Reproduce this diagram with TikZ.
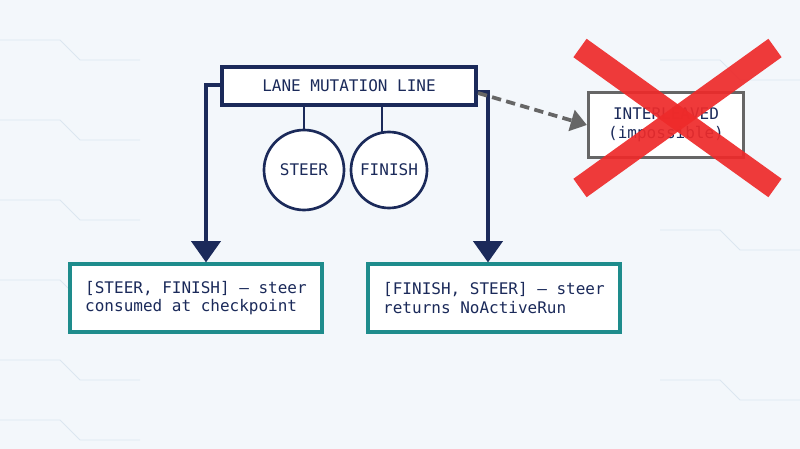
\documentclass[tikz,border=0pt]{standalone}
\usepackage{fontspec}
\setmainfont{DejaVu Sans Mono}
\usetikzlibrary{arrows.meta}
\definecolor{navy}{HTML}{1B2A5A}
\definecolor{teal2}{HTML}{1E8C8C}
\definecolor{bg}{HTML}{F3F7FB}
\definecolor{grid}{HTML}{DCE6F0}
\definecolor{xred}{HTML}{EE2A2A}
\begin{document}
\begin{tikzpicture}[x=0.75pt,y=-0.75pt,
  box/.style={draw=navy,line width=2.4pt,fill=white,text=navy,font=\large},
  circ/.style={draw=navy,line width=2pt,circle,fill=white,text=navy,font=\large,inner sep=0pt},
  res/.style={draw=teal2,line width=2.4pt,fill=white,text=navy,font=\large,align=left,inner sep=0pt},
  flow/.style={draw=navy,line width=2.4pt,-{Triangle[length=16pt,width=22pt]}},
  link/.style={draw=navy,line width=2pt}]
\fill[bg] (0,0) rectangle (800,449);
\useasboundingbox (0,0) rectangle (800,449);
\foreach \y in {40,120,200,280,360,420}{\draw[grid,line width=0.6pt] (0,\y) -- (60,\y) -- (80,\y+20) -- (140,\y+20);}
\foreach \y in {60,230,380}{\draw[grid,line width=0.6pt] (660,\y) -- (720,\y) -- (740,\y+20) -- (800,\y+20);}
\node[box,minimum width=254*0.75pt,minimum height=38*0.75pt] (lane) at (349,86) {LANE MUTATION LINE};
\node[circ,minimum size=80*0.75pt] (steer) at (304,170) {STEER};
\node[circ,minimum size=76*0.75pt] (finish) at (389,170) {FINISH};
\draw[link] (304,105) -- (steer.north);
\draw[link] (382,105) -- (382,132);
\node[res,minimum width=252*0.75pt,minimum height=68*0.75pt] (left) at (196,298) {[STEER, FINISH] — steer\\consumed at checkpoint};
\node[res,minimum width=252*0.75pt,minimum height=68*0.75pt] (right) at (494,298) {[FINISH, STEER] — steer\\returns NoActiveRun};
\coordinate (lc) at (206,85);
\coordinate (rc) at (488,92);
\draw[flow] (lane.west |- lc) -- (lc) -- (left.north -| lc);
\draw[flow] (lane.east |- rc) -- (rc) -- (right.north -| rc);
\node[draw=gray!80!black,line width=2.4pt,fill=white,text=navy,font=\large,align=center,minimum width=155*0.75pt,minimum height=65*0.75pt] (inter) at (666,125) {INTERLEAVED\\(impossible)};
\draw[gray!80!black,line width=2.8pt,dash pattern=on 7pt off 4pt,-{Triangle[length=12pt,width=16pt]}] (478,93) -- (inter.west);
\draw[xred,opacity=0.92,line width=17pt] (580,48) -- (775,188);
\draw[xred,opacity=0.92,line width=17pt] (775,48) -- (580,188);
\end{tikzpicture}
\end{document}
